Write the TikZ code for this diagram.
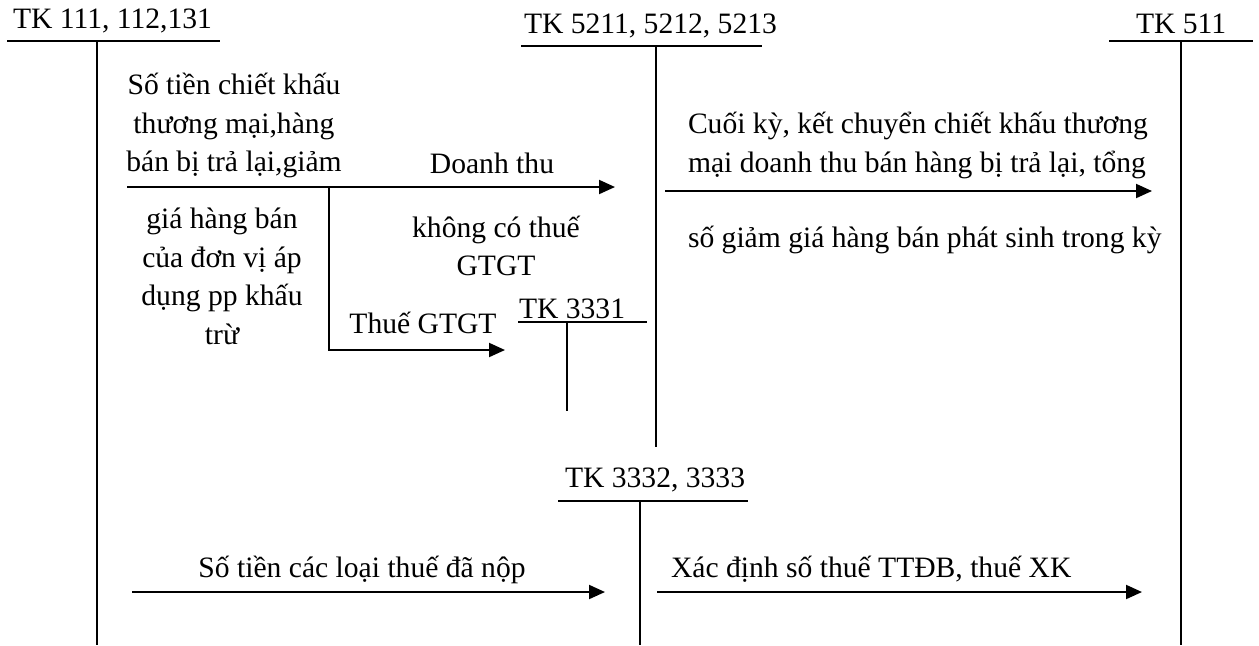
\documentclass[tikz,border=0pt]{standalone}
\usepackage{fontspec}
\setmainfont{Liberation Serif}
\usetikzlibrary{arrows.meta}
\tikzset{
  acc/.style={anchor=base west, inner sep=0pt},
  txt/.style={inner sep=0pt, align=center},
  flow/.style={-{Triangle[length=8pt,width=7pt]}},
}

\begin{document}
\begin{tikzpicture}[x=0.5pt, y=-0.5pt, line width=1pt, font=\fontsize{14.8}{19.3}\selectfont]
\useasboundingbox (0,0) rectangle (1259,645);
% T accounts
\node[acc] (TK111) at (12,28) {TK 111, 112,131};
\coordinate (TK111_l) at (7,41);
\coordinate (TK111_r) at (220,41);
\coordinate (TK111_t) at (97,41);
\coordinate (TK111_b) at (97,645);
\draw (TK111_l) -- (TK111_r);
\draw (TK111_t) -- (TK111_b);
\node[acc] (TK521) at (523,33) {TK 5211, 5212, 5213};
\coordinate (TK521_l) at (521,46);
\coordinate (TK521_r) at (762,46);
\coordinate (TK521_t) at (656,46);
\coordinate (TK521_b) at (656,447);
\draw (TK521_l) -- (TK521_r);
\draw (TK521_t) -- (TK521_b);
\node[acc] (TK511) at (1135,33) {TK 511};
\coordinate (TK511_l) at (1109,41);
\coordinate (TK511_r) at (1253,41);
\coordinate (TK511_t) at (1181,41);
\coordinate (TK511_b) at (1181,645);
\draw (TK511_l) -- (TK511_r);
\draw (TK511_t) -- (TK511_b);
\node[acc] (TK3331) at (518,318) {TK 3331};
\coordinate (TK3331_l) at (518,322);
\coordinate (TK3331_r) at (647,322);
\coordinate (TK3331_t) at (567,322);
\coordinate (TK3331_b) at (567,411);
\draw (TK3331_l) -- (TK3331_r);
\draw (TK3331_t) -- (TK3331_b);
\node[acc] (TK3332) at (564,487) {TK 3332, 3333};
\coordinate (TK3332_l) at (558,501);
\coordinate (TK3332_r) at (748,501);
\coordinate (TK3332_t) at (640,501);
\coordinate (TK3332_b) at (640,645);
\draw (TK3332_l) -- (TK3332_r);
\draw (TK3332_t) -- (TK3332_b);
% flows
\coordinate (A1_s) at (127,187);
\coordinate (A1_e) at (615,187);
\coordinate (A1_k) at (329,187);
\coordinate (A1_v) at (505,350);
\draw[flow] (A1_s) -- (A1_e);
\draw[flow] (A1_k) |- (A1_v);
\coordinate (A2_s) at (665,191);
\coordinate (A2_e) at (1152,191);
\draw[flow] (A2_s) -- (A2_e);
\coordinate (A3_s) at (132,592);
\coordinate (A3_e) at (605,592);
\draw[flow] (A3_s) -- (A3_e);
\coordinate (A4_s) at (657,592);
\coordinate (A4_e) at (1142,592);
\draw[flow] (A4_s) -- (A4_e);
% labels
\node[txt, anchor=north] (L_ck1) at (234,72) {Số tiền chiết khấu\\thương mại,hàng\\bán bị trả lại,giảm};
\node[txt, anchor=north] (L_ck2) at (222,207) {giá hàng bán\\của đơn vị áp\\dụng pp khấu\\trừ};
\node[txt, anchor=base] (L_dt) at (492,173) {Doanh thu};
\node[txt, anchor=north, font=\fontsize{14.8}{19}\selectfont] (L_kct) at (496,215) {không có thuế\\GTGT};
\node[txt, anchor=base] (L_vat) at (423,333) {Thuế GTGT};
\node[txt, anchor=north west, align=left, font=\fontsize{14.8}{19.5}\selectfont] (L_kc1) at (687,111) {Cuối kỳ, kết chuyển chiết khấu thương\\mại doanh thu bán hàng bị trả lại, tổng};
\node[txt, anchor=base west] (L_kc2) at (687,247) {số giảm giá hàng bán phát sinh trong kỳ};
\node[txt, anchor=base] (L_nop) at (362,577) {Số tiền các loại thuế đã nộp};
\node[txt, anchor=base west] (L_xd) at (670,577) {Xác định số thuế TTĐB, thuế XK};
\end{tikzpicture}
\end{document}
